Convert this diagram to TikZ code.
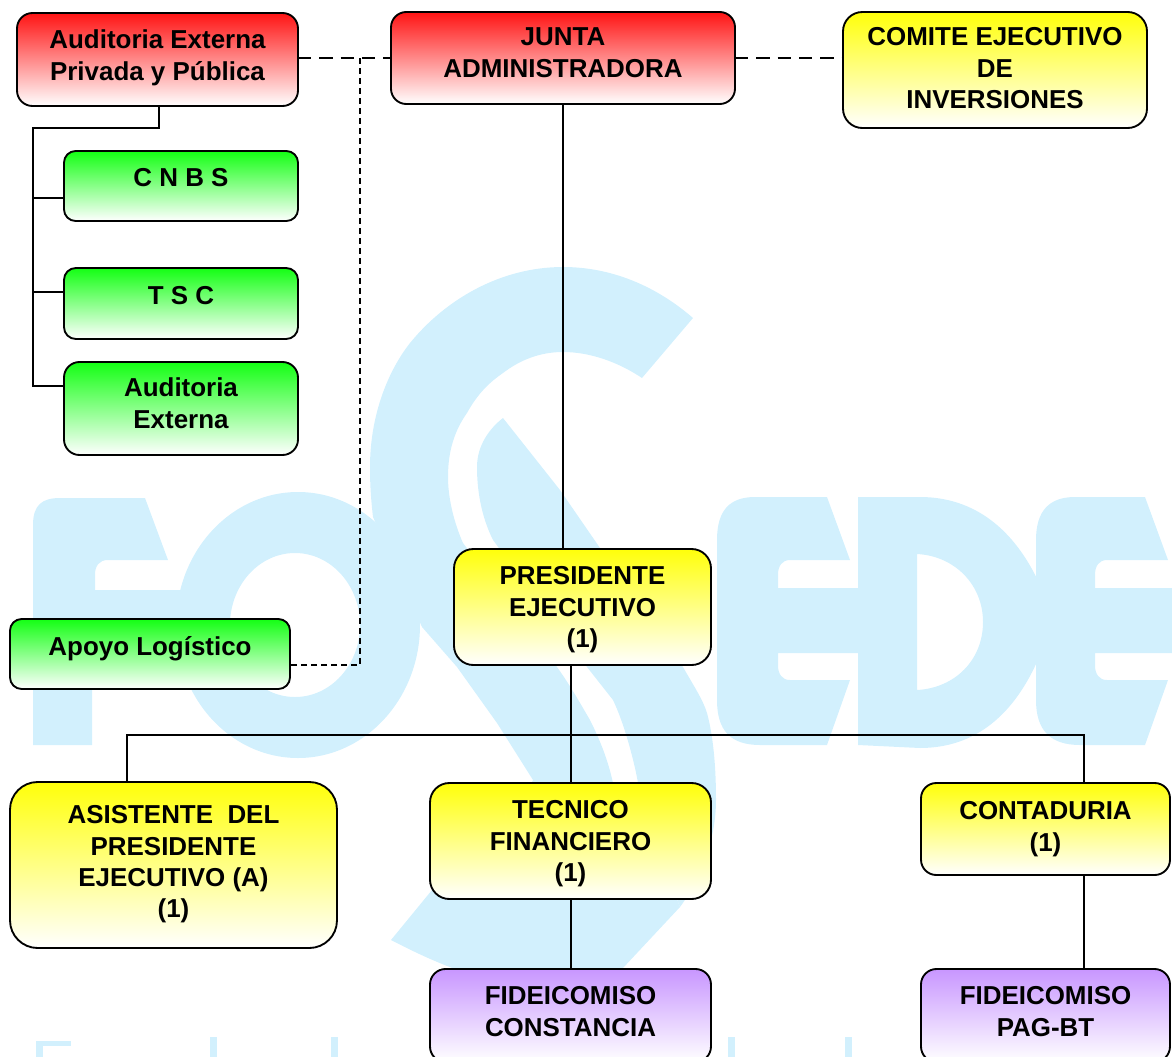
\documentclass[tikz,border=0pt]{standalone}
\usepackage{fontspec}
\setmainfont{Liberation Sans}
\usetikzlibrary{calc}
\definecolor{wm}{HTML}{D2F0FD}
\definecolor{redtop}{HTML}{FF1414}
\definecolor{yeltop}{HTML}{FFFF0A}
\definecolor{grntop}{HTML}{14FF14}
\definecolor{purtop}{HTML}{C896FF}
\newcommand{\orgfont}{\fontsize{19.45}{23.4}\selectfont\bfseries}
\tikzset{
  orgnode/.style={draw=black,line width=1.4pt,inner sep=0pt,outer sep=0pt,anchor=north west},
  solidlink/.style={draw=black,line width=1.5pt},
  longdash/.style={draw=black,line width=1.3pt,dash pattern=on 10pt off 6pt},
  shortdash/.style={draw=black,line width=1.2pt,dash pattern=on 4.5pt off 3pt},
  wmfill/.style={fill=wm,draw=none}
}
\newcommand{\orgbox}[8]{%
  \pgfmathsetmacro{\bw}{(#5-#3)*0.75}%
  \pgfmathsetmacro{\bh}{(#6-#4)*0.75}%
  \pgfmathsetmacro{\brad}{min(\bw,\bh)/6}%
  \node[orgnode,top color=#2,bottom color=white,rounded corners=\brad pt] (#1) at (#3,#4)
    {\parbox[c][\bh pt][t]{\bw pt}{\centering\orgfont\vspace*{\dimexpr #7pt*3/4\relax}\strut #8}};%
}
\begin{document}
\begin{tikzpicture}[x=0.75pt,y=-0.75pt]
\useasboundingbox (0,0) rectangle (1172,1057);
\begin{scope}
\clip (0,0) rectangle (1172,1057);
% watermark: F
\fill[wmfill] (33,745) -- (33,525) .. controls (33,505) and (42,498) .. (60,498) -- (145,498) -- (168,560)
  -- (108,560) .. controls (99,560) and (95,566) .. (95,575) -- (95,590) -- (200,590) -- (200,680) -- (92,680) -- (92,745) -- cycle;
% watermark: O
\fill[wmfill,even odd rule] (298,625) ellipse [x radius=122,y radius=133] (295,625) ellipse [x radius=65,y radius=72];
% watermark: S, first ribbon
\fill[wmfill] (693,318) .. controls (655,285) and (610,267) .. (563,267)
  .. controls (500,267) and (445,300) .. (410,343)
  .. controls (385,375) and (370,420) .. (370,467)
  .. controls (370,485) and (371,500) .. (373,517)
  -- (422,627) -- (457,667) -- (497,723) -- (533,780) -- (500,850) -- (432,890) -- (391,940)
  .. controls (420,955) and (480,985) .. (530,985)
  .. controls (570,985) and (600,985) .. (623,968)
  -- (680,907) -- (650,830) -- (625,830) -- (613,783)
  .. controls (608,760) and (600,740) .. (590,720) .. controls (580,703) and (570,685) .. (557,667)
  -- (463,543) .. controls (455,525) and (448,500) .. (448,477)
  .. controls (448,450) and (455,430) .. (467,413)
  .. controls (478,393) and (490,382) .. (503,373)
  .. controls (520,360) and (540,352) .. (563,352)
  .. controls (590,352) and (618,362) .. (642,378) -- cycle;
% watermark: S, second ribbon
\fill[wmfill] (503,418) -- (560,490) -- (600,548) -- (683,667) .. controls (695,688) and (703,700) .. (707,713)
  .. controls (713,735) and (716,765) .. (716,800)
  .. controls (716,840) and (700,880) .. (680,907) -- (650,830) -- (638,783)
  .. controls (635,765) and (625,725) .. (613,700) -- (587,667) -- (493,540)
  .. controls (483,520) and (477,495) .. (477,467)
  .. controls (477,445) and (490,428) .. (503,418) -- cycle;
% watermark: E
\fill[wmfill] (717,540) .. controls (717,510) and (730,497) .. (755,497) -- (827,497) -- (850,560) -- (790,560)
  .. controls (782,560) and (778,566) .. (778,575) -- (778,588) -- (860,588) -- (860,653) -- (778,653) -- (778,665)
  .. controls (778,674) and (782,680) .. (790,680) -- (850,680) -- (827,745) -- (760,745)
  .. controls (730,745) and (717,730) .. (717,700) -- cycle;
% watermark: D
\fill[wmfill,even odd rule] (858,497) -- (920,497) .. controls (975,497) and (1015,530) .. (1040,585)
  -- (1040,655) .. controls (1015,715) and (975,748) .. (920,748) -- (858,745) -- cycle
  (917,554) .. controls (955,556) and (983,585) .. (983,622) .. controls (983,660) and (955,688) .. (917,690) -- cycle;
% watermark: second E
\fill[wmfill] (1036,540) .. controls (1036,510) and (1050,497) .. (1075,497) -- (1145,497) -- (1168,560) -- (1107,560)
  .. controls (1099,560) and (1095,566) .. (1095,575) -- (1095,588) -- (1172,588) -- (1172,653) -- (1095,653) -- (1095,665)
  .. controls (1095,674) and (1099,680) .. (1107,680) -- (1168,680) -- (1145,745) -- (1080,745)
  .. controls (1050,745) and (1036,730) .. (1036,700) -- cycle;
% watermark: cut-off lettering at the foot
\fill[wmfill] (36,1041) rectangle (71,1046);
\fill[wmfill] (36,1041) rectangle (43,1057);
\foreach \sx in {210,331,728,845} \fill[wmfill] (\sx,1037) rectangle (\sx+7,1057);
\end{scope}

% boxes
\orgbox{audpriv}{redtop}{17}{13}{298}{106}{14}{Auditoria Externa\\Privada y Pública}
\orgbox{junta}{redtop}{391}{12}{735}{104}{12}{JUNTA\\ADMINISTRADORA}
\orgbox{comite}{yeltop}{843}{12}{1147}{128}{12}{COMITE EJECUTIVO\\DE\\INVERSIONES}
\orgbox{cnbs}{grntop}{64}{151}{298}{221}{14}{C N B S}
\orgbox{tsc}{grntop}{64}{268}{298}{339}{15}{T S C}
\orgbox{audext}{grntop}{64}{362}{298}{455}{13}{Auditoria\\Externa}
\orgbox{apoyo}{grntop}{10}{619}{290}{689}{15}{Apoyo Logístico}
\orgbox{pres}{yeltop}{454}{549}{711}{665}{14}{PRESIDENTE\\EJECUTIVO\\(1)}
\orgbox{asist}{yeltop}{10}{782}{337}{948}{20}{ASISTENTE\ \ DEL\\PRESIDENTE\\EJECUTIVO (A)\\(1)}
\orgbox{tec}{yeltop}{430}{783}{711}{899}{14}{TECNICO\\FINANCIERO\\(1)}
\orgbox{cont}{yeltop}{921}{783}{1170}{875}{15}{CONTADURIA\\(1)}
\orgbox{fidc}{purtop}{430}{969}{711}{1062}{14}{FIDEICOMISO\\CONSTANCIA}
\orgbox{fidp}{purtop}{921}{969}{1170}{1062}{14}{FIDEICOMISO\\PAG-BT}

% free ends of the connectors
\coordinate (dashtop) at (360,58);
\coordinate (dashfoot) at (360,665);
\coordinate (bracketdrop) at (159,128);
\coordinate (bracketleft) at (33,128);
\coordinate (brcnbs) at (33,198);
\coordinate (brtsc) at (33,292);
\coordinate (braud) at (33,386);
\coordinate (busleft) at (127,735);
\coordinate (busright) at (1084,735);

% dashed links
\draw[longdash] (junta.west -| audpriv.east) -- (junta.west);
\draw[longdash] (junta.east) -- (junta.east -| comite.west);
\draw[shortdash] (dashtop) -- (dashfoot) -- (dashfoot -| apoyo.east);

% solid links
\draw[solidlink] (junta.south) -- (junta.south |- pres.north);
\draw[solidlink] (tec.north) -- (tec.north |- pres.south);
\draw[solidlink] (busleft |- asist.north) -- (busleft) -- (busright) -- (busright |- cont.north);
\draw[solidlink] (tec.south) -- (fidc.north);
\draw[solidlink] (busright |- cont.south) -- (busright |- fidp.north);
\draw[solidlink] (bracketdrop |- audpriv.south) -- (bracketdrop) -- (bracketleft) -- (braud) -- (braud -| audext.west);
\draw[solidlink] (brcnbs) -- (brcnbs -| cnbs.west);
\draw[solidlink] (brtsc) -- (brtsc -| tsc.west);
\end{tikzpicture}
\end{document}
